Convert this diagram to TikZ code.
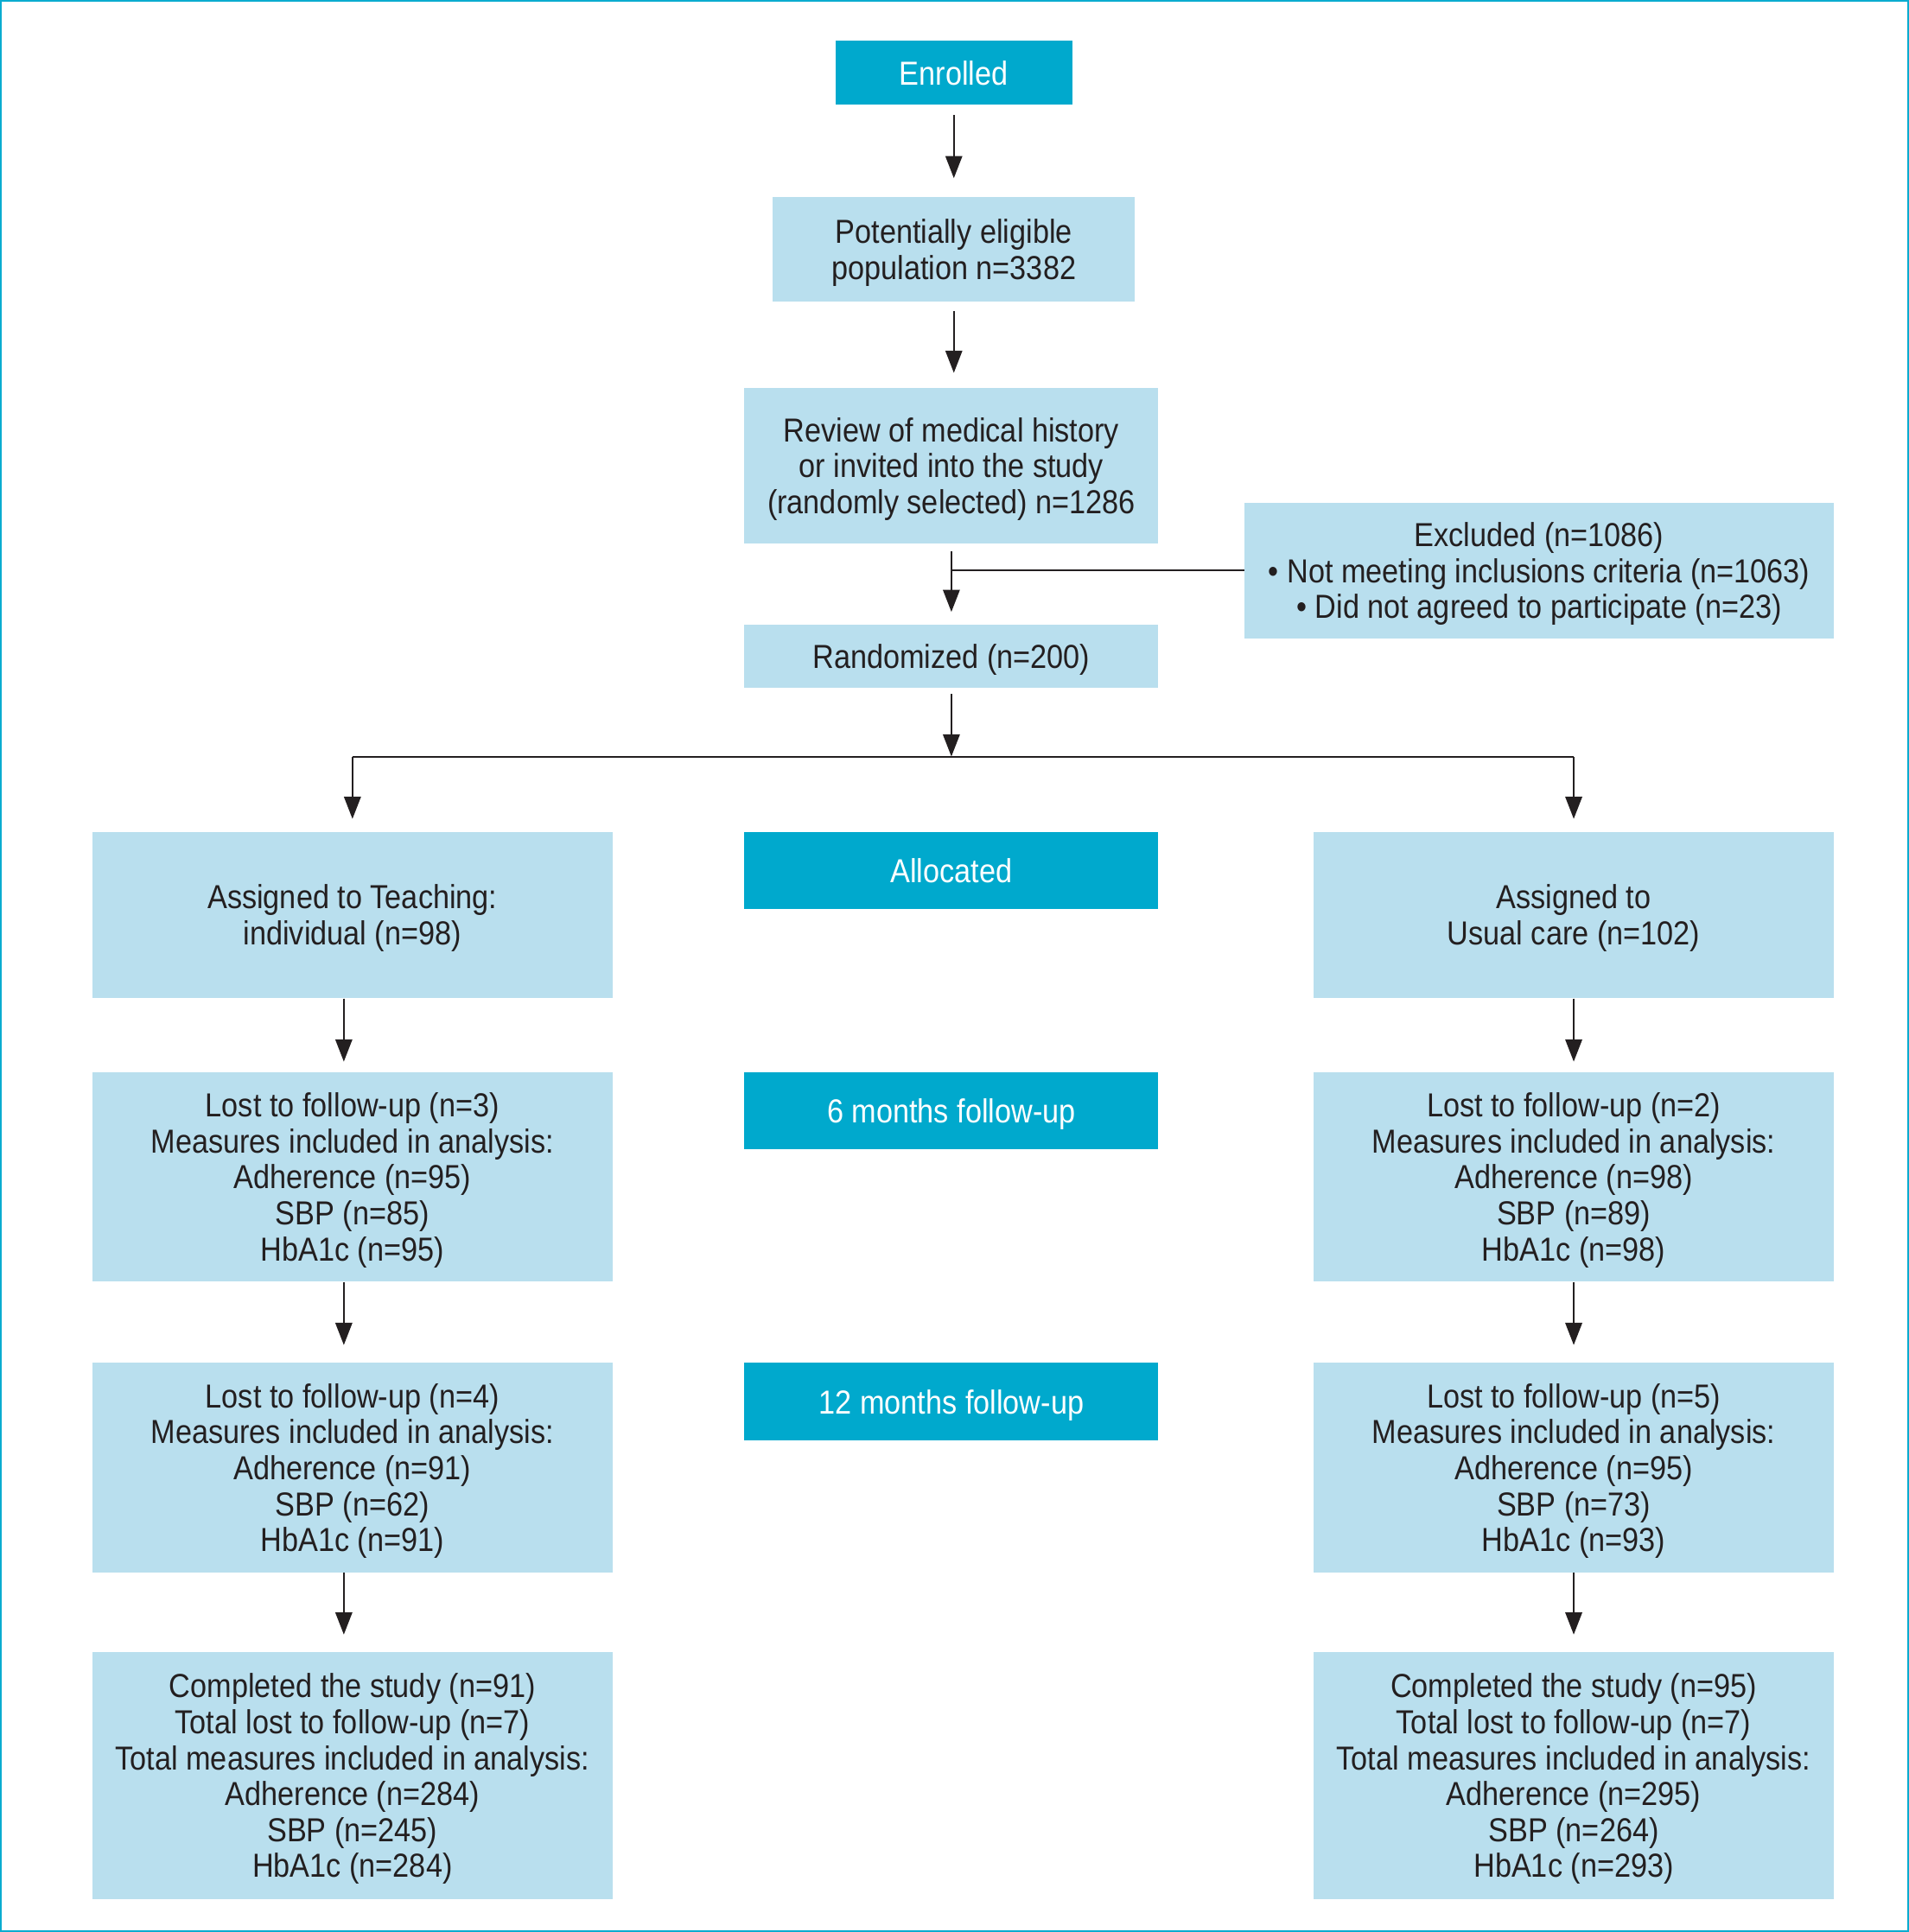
\documentclass[tikz,border=0pt]{standalone}
\usepackage{fontspec}
\setmainfont[FakeStretch=0.89]{Liberation Sans}
\usetikzlibrary{arrows.meta}
\definecolor{darkb}{RGB}{0,169,205}
\definecolor{lightb}{RGB}{185,223,238}
\definecolor{txt}{RGB}{35,31,32}
\definecolor{bordc}{RGB}{10,172,208}
\begin{document}
\begin{tikzpicture}[x=0.5pt,y=-0.5pt,
  lbox/.style={fill=lightb, draw=none, align=center, inner sep=0pt, text=txt,
    text depth=0pt, font=\fontsize{13.5}{14.6}\selectfont},
  dbox/.style={fill=darkb, draw=none, align=center, inner sep=0pt, text=white,
    text depth=0pt, font=\fontsize{13.5}{14.6}\selectfont},
  col/.style={minimum width=211pt},
  mid/.style={minimum width=168pt, minimum height=31.5pt},
  arr/.style={draw=txt, line width=0.7pt, -{Triangle[length=9pt,width=6.8pt]}},
  ln/.style={draw=txt, line width=0.7pt}]
\useasboundingbox (0,0) rectangle (1549,1568);
\draw[bordc, line width=0.75pt] (0.75,0.75) rectangle (1548.25,1567.25);

% centre column
\node[dbox, minimum width=96pt, minimum height=26pt] (enrolled) at (774,59) {Enrolled};
\node[lbox, minimum width=147pt, minimum height=42.5pt] (elig) at (774,202.5)
  {Potentially eligible\\population n=3382};
\node[lbox, minimum width=168pt, minimum height=63pt] (review) at (772,378)
  {Review of medical history\\or invited into the study\\(randomly selected) n=1286};
\node[lbox, minimum width=239pt, minimum height=55pt] (excl) at (1249,463)
  {Excluded (n=1086)\\• Not meeting inclusions criteria (n=1063)\\• Did not agreed to participate (n=23)};
\node[lbox, minimum width=168pt, minimum height=25.5pt] (rand) at (772,532.5)
  {Randomized (n=200)};
\node[dbox, mid] (alloc) at (772,706.5) {Allocated};
\node[dbox, mid] (six) at (772,901.5) {6 months follow-up};
\node[dbox, mid] (twelve) at (772,1137.5) {12 months follow-up};

% left column
\node[lbox, col, minimum height=67.5pt] (la) at (286,742.5)
  {Assigned to Teaching:\\individual (n=98)};
\node[lbox, col, minimum height=85pt] (l1) at (286,955)
  {Lost to follow-up (n=3)\\Measures included in analysis:\\Adherence (n=95)\\SBP (n=85)\\HbA1c (n=95)};
\node[lbox, col, minimum height=85pt] (l2) at (286,1191)
  {Lost to follow-up (n=4)\\Measures included in analysis:\\Adherence (n=91)\\SBP (n=62)\\HbA1c (n=91)};
\node[lbox, col, minimum height=100pt] (lc) at (286,1441)
  {Completed the study (n=91)\\Total lost to follow-up (n=7)\\Total measures included in analysis:\\Adherence (n=284)\\SBP (n=245)\\HbA1c (n=284)};

% right column
\node[lbox, col, minimum height=67.5pt] (ra) at (1277,742.5)
  {Assigned to\\Usual care (n=102)};
\node[lbox, col, minimum height=85pt] (r1) at (1277,955)
  {Lost to follow-up (n=2)\\Measures included in analysis:\\Adherence (n=98)\\SBP (n=89)\\HbA1c (n=98)};
\node[lbox, col, minimum height=85pt] (r2) at (1277,1191)
  {Lost to follow-up (n=5)\\Measures included in analysis:\\Adherence (n=95)\\SBP (n=73)\\HbA1c (n=93)};
\node[lbox, col, minimum height=100pt] (rc) at (1277,1441)
  {Completed the study (n=95)\\Total lost to follow-up (n=7)\\Total measures included in analysis:\\Adherence (n=295)\\SBP (n=264)\\HbA1c (n=293)};

% connectors, centre
\draw[arr, shorten <=4pt, shorten >=7.5pt] (enrolled.south) -- (enrolled.south |- elig.north);
\draw[arr, shorten <=3.5pt, shorten >=6pt] (elig.south) -- (elig.south |- review.north);
\draw[arr, shorten <=3pt, shorten >=5pt] (review.south) -- (rand.north);
\draw[ln] (excl.west) -- (excl.west -| review.south);
\coordinate (br) at (772,614);
\coordinate (bl) at (la.north |- br);
\coordinate (bri) at (ra.north |- br);
\draw[arr, shorten <=2.5pt] (rand.south) -- (br);
\draw[ln] (bl) -- (bri);
\draw[arr, shorten >=5pt] (bl) -- (la.north);
\draw[arr, shorten >=5pt] (bri) -- (ra.north);

% left column arrows
\draw[arr, shorten >=4pt] ([xshift=-3.5pt]la.south) -- ([xshift=-3.5pt]l1.north);
\draw[arr, shorten >=7pt] ([xshift=-3.5pt]l1.south) -- ([xshift=-3.5pt]l2.north);
\draw[arr, shorten >=7pt] ([xshift=-3.5pt]l2.south) -- ([xshift=-3.5pt]lc.north);

% right column arrows
\draw[arr, shorten >=4pt] (ra.south) -- (r1.north);
\draw[arr, shorten >=7pt] (r1.south) -- (r2.north);
\draw[arr, shorten >=7pt] (r2.south) -- (rc.north);
\end{tikzpicture}
\end{document}
